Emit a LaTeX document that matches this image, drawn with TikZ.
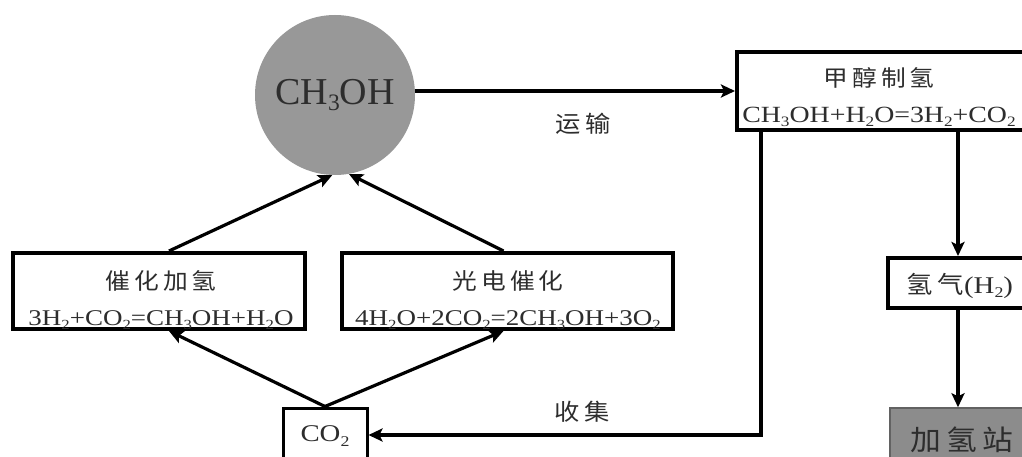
\documentclass[tikz,border=0pt]{standalone}
\usepackage{fontspec}
\setmainfont{Liberation Serif}
\newfontfamily\eqf[FakeStretch=1.2]{Liberation Serif}
\newfontfamily\cjk[FakeStretch=1.1,LetterSpace=18]{Noto Sans CJK SC}
\usetikzlibrary{arrows.meta}
\definecolor{cgray}{RGB}{152,152,152}
\definecolor{sgray}{RGB}{140,140,140}
\definecolor{tgray}{RGB}{45,45,45}
\newcommand\sbs[1]{\raisebox{-0.18em}{\scalebox{0.62}{#1}}}
\tikzset{
  box/.style={draw=black, line width=4pt, fill=white, inner sep=0pt},
  txt/.style={align=center, inner sep=0pt, text=tgray, font=\fontsize{22.5}{36}\selectfont},
  arr/.style={line width=3.2pt, -{Stealth[length=14pt,width=13pt,inset=3pt]}},
  lbl/.style={inner sep=0pt, text=tgray, font=\fontsize{23}{26}\selectfont\cjk},
}
\begin{document}
\begin{tikzpicture}[x=1pt,y=-1pt]
\useasboundingbox (0,0) rectangle (1022,457);
\clip (0,0) rectangle (1022,457);
\fill[white] (0,0) rectangle (1022,457);

% methanol circle
\node[circle, fill=cgray, minimum size=160pt, inner sep=0pt, text=tgray,
      font=\fontsize{38}{40}\selectfont] (C) at (335,95) {CH\sbs{3}OH};

% methanol reforming box
\node[box, minimum width=292pt, minimum height=78pt] (M) at (883,91) {};
\node[txt] (Mt) at (879,97) {{\cjk 甲醇制氢}\\{\fontsize{23.2}{36}\selectfont\eqf CH\sbs{3}OH+H\sbs{2}O=3H\sbs{2}+CO\sbs{2}}};

% catalytic hydrogenation box
\node[box, minimum width=292pt, minimum height=76pt] (L) at (159,291) {};
\node[txt] (Lt) at (161,300) {{\cjk 催化加氢}\\{\eqf 3H\sbs{2}+CO\sbs{2}=CH\sbs{3}OH+H\sbs{2}O}};

% photoelectrocatalysis box
\node[box, minimum width=331pt, minimum height=76pt] (R) at (507.5,291) {};
\node[txt] (Rt) at (508,300) {{\cjk 光电催化}\\{\eqf 4H\sbs{2}O+2CO\sbs{2}=2CH\sbs{3}OH+3O\sbs{2}}};

% CO2 box
\node[box, line width=3pt, minimum width=84pt, minimum height=54pt] (CO) at (325,435) {};
\node[txt, font=\fontsize{24}{28}\selectfont] (COt) at (325,436) {\eqf CO\sbs{2}};

% hydrogen box
\node[box, minimum width=140pt, minimum height=50pt] (H) at (958,283) {};
\node[txt, font=\fontsize{24}{28}\selectfont] (Ht) at (960,286) {{\cjk 氢气}{\eqf (H\sbs{2})}};

% hydrogen station
\node[draw=sgray!70!black, line width=1.5pt, fill=sgray, minimum width=136pt, minimum height=64pt, inner sep=0pt] (S) at (958,440) {};
\node[lbl, font=\fontsize{28}{30}\selectfont\cjk] (St) at (962,440) {加氢站};

% connectors
\draw[arr] (C.east |- M.west) -- (M.west);
\node[lbl] (yun) at (583,124) {运输};

\draw[arr] ([xshift=10pt]L.north) -- (C.-92);
\draw[arr] ([xshift=-4pt]R.north) -- (C.-80);
\draw[arr] (CO.north) -- ([xshift=10pt]L.south);
\draw[arr] (CO.north) -- ([xshift=-4pt]R.south);

\draw[arr] ([xshift=26pt]M.south west) |- (CO.east);
\node[lbl] (shou) at (582,412) {收集};

\draw[arr] (H.north |- M.south) -- (H.north);
\draw[arr] (H.south) -- (S.north);
\end{tikzpicture}
\end{document}
